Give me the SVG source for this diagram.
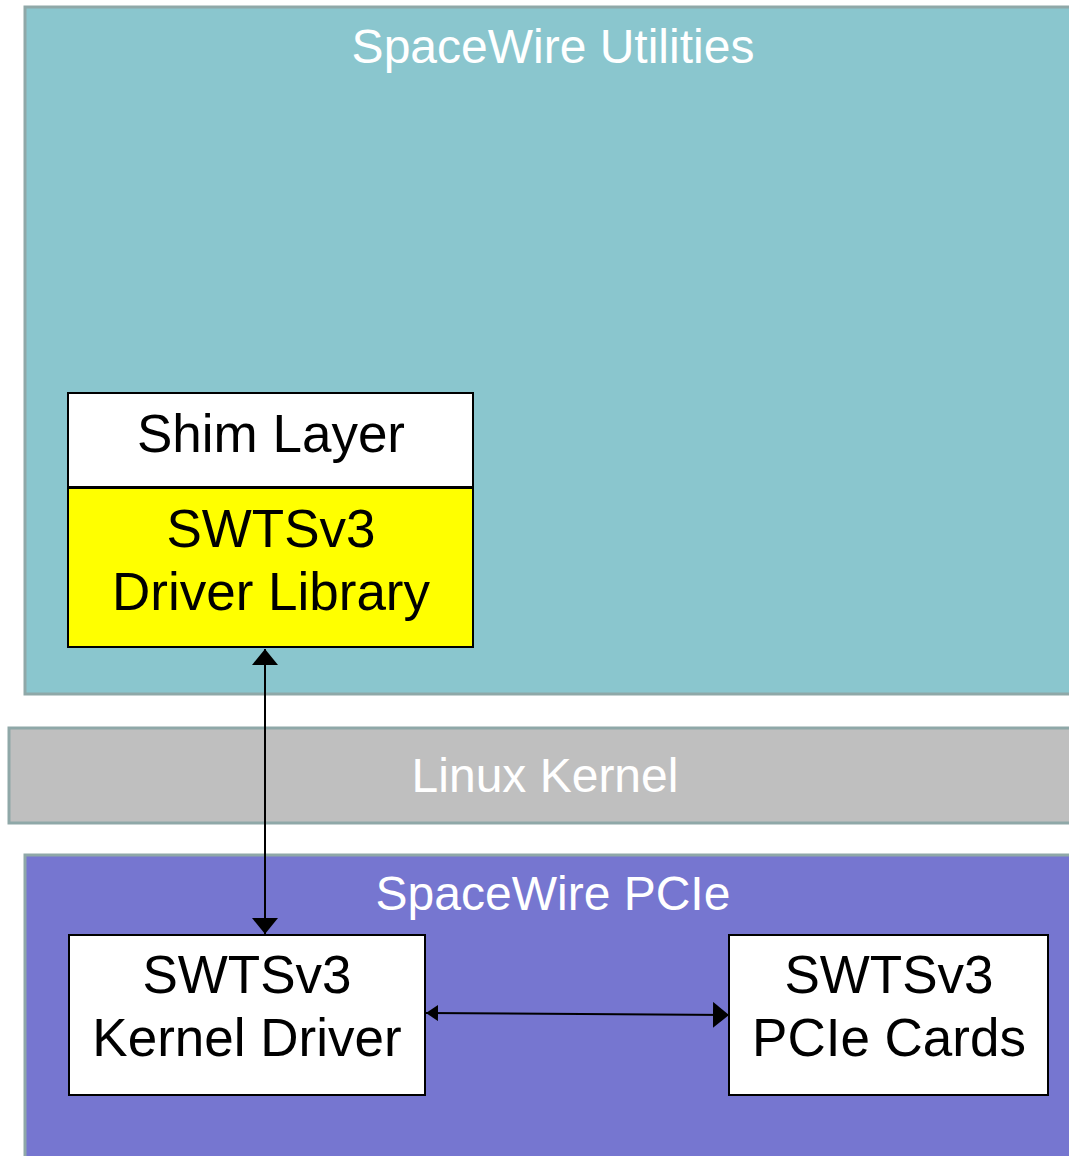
<svg xmlns="http://www.w3.org/2000/svg" width="1069" height="1156" viewBox="0 0 1069 1156">
<style>
.layer{stroke:#8fa8a8;stroke-width:3}
.ltxt{font-family:"Liberation Sans",Arial,sans-serif;font-size:48px;fill:#ffffff;text-anchor:middle}
.box{stroke:#000;stroke-width:2}
.btxt{font-family:"Liberation Sans",Arial,sans-serif;font-size:53px;fill:#000;text-anchor:middle}
.conn{stroke:#000;stroke-width:2;fill:none}
</style>
<defs>
<marker id="ah" viewBox="0 0 16 26" refX="16" refY="13" markerWidth="16" markerHeight="26" markerUnits="userSpaceOnUse" orient="auto-start-reverse">
<path d="M0,0 L16,13 L0,26 Z" fill="#000"/>
</marker>
<marker id="ahs" viewBox="0 0 12 16" refX="12" refY="8" markerWidth="12" markerHeight="16" markerUnits="userSpaceOnUse" orient="auto-start-reverse">
<path d="M0,0 L12,8 L0,16 Z" fill="#000"/>
</marker>
</defs>
<rect width="1069" height="1156" fill="#fff"/>
<g id="utilities">
<rect class="layer" x="25" y="7" width="1060" height="687" fill="#8ac6ce"/>
<text class="ltxt" x="553" y="63">SpaceWire Utilities</text>
</g>
<g id="kernel">
<rect class="layer" x="9" y="728" width="1076" height="95" fill="#bfbfbf"/>
<text class="ltxt" x="545" y="792">Linux Kernel</text>
</g>
<g id="pcie">
<rect class="layer" x="25" y="855" width="1060" height="320" fill="#7676d0"/>
<text class="ltxt" x="553" y="910">SpaceWire PCIe</text>
</g>
<g id="shim">
<rect class="box" x="68" y="393" width="405" height="94" fill="#fff"/>
<text class="btxt" x="271" y="452">Shim Layer</text>
</g>
<g id="driverlib">
<rect class="box" x="68" y="488" width="405" height="159" fill="#ffff00"/>
<text class="btxt" x="271" y="547">SWTSv3</text>
<text class="btxt" x="271" y="610">Driver Library</text>
</g>
<g id="kerneldriver">
<rect class="box" x="69" y="935" width="356" height="160" fill="#fff"/>
<text class="btxt" x="247" y="993">SWTSv3</text>
<text class="btxt" x="247" y="1056">Kernel Driver</text>
</g>
<g id="pciecards">
<rect class="box" x="729" y="935" width="319" height="160" fill="#fff"/>
<text class="btxt" x="889" y="993">SWTSv3</text>
<text class="btxt" x="889" y="1056">PCIe Cards</text>
</g>
<g id="connectors">
<line class="conn" x1="265" y1="649" x2="265" y2="934" marker-start="url(#ah)" marker-end="url(#ah)"/>
<line class="conn" x1="426" y1="1013" x2="729" y2="1015" marker-start="url(#ahs)" marker-end="url(#ah)"/>
</g>
</svg>
